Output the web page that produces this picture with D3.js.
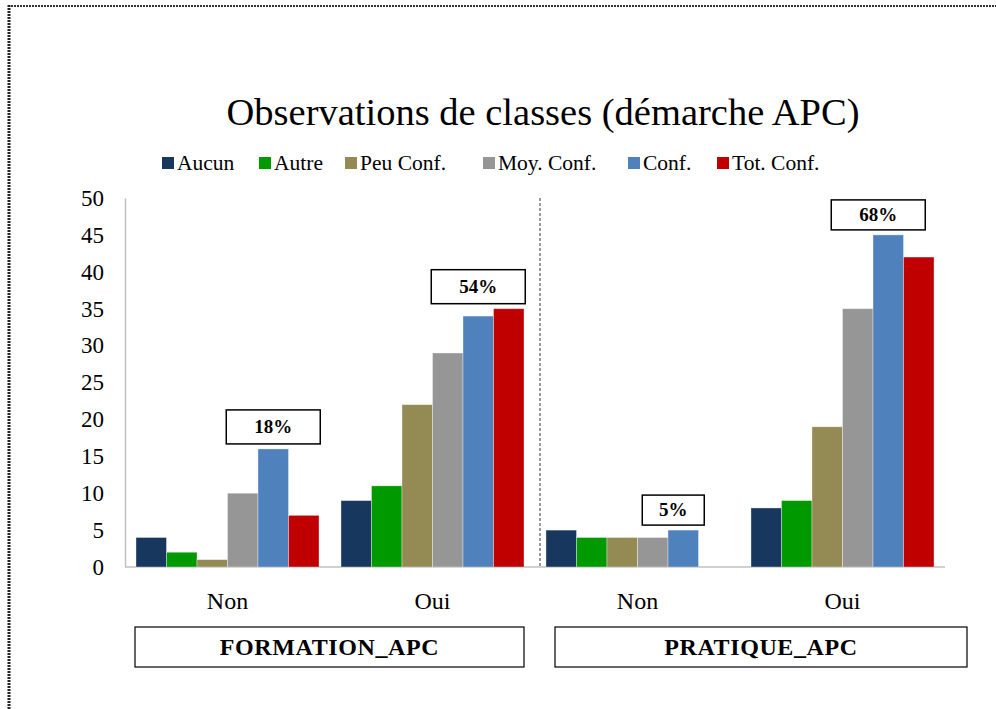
<!DOCTYPE html>
<html>
<head>
<meta charset="utf-8">
<script src="https://cdn.jsdelivr.net/npm/d3@7"></script>
<style>
  html, body { margin: 0; padding: 0; background: #fff; }
  svg { display: block; }
</style>
</head>
<body>
<svg id="chart" width="996" height="709"></svg>
<script>
// Category groups along the x axis (question / answer)
const groups = ["FORMATION_APC|Non", "FORMATION_APC|Oui", "PRATIQUE_APC|Non", "PRATIQUE_APC|Oui"];
const groupLabels = ["Non", "Oui", "Non", "Oui"];
const sections = ["FORMATION_APC", "PRATIQUE_APC"];

// Series (level of confidence)
const series = ["Aucun", "Autre", "Peu Conf.", "Moy. Conf.", "Conf.", "Tot. Conf."];
const colors = ["#17375e", "#009900", "#948a54", "#969696", "#4f81bd", "#c00000"];

// Counts per series, one value per group
const aucun   = [4, 9, 5, 8];
const autre   = [2, 11, 4, 9];
const peuConf = [1, 22, 4, 19];
const moyConf = [10, 29, 4, 35];
const conf    = [16, 34, 5, 45];
const totConf = [7, 35, 0, 42];
const values = [aucun, autre, peuConf, moyConf, conf, totConf];

// Percentage callouts per group
const pctLabels = ["18%", "54%", "5%", "68%"];

// Y axis ticks
const yTicks = [0, 5, 10, 15, 20, 25, 30, 35, 40, 45, 50];

const SERIF = "\"Liberation Serif\"";

const svg = d3.select("#chart");

// Dotted page frame (top and left edges)
svg.append("line").attr("x1", 8).attr("x2", 996).attr("y1", 6).attr("y2", 6)
  .attr("stroke", "#333").attr("stroke-width", 2).attr("stroke-dasharray", "2,1");
svg.append("line").attr("x1", 9).attr("x2", 9).attr("y1", 5).attr("y2", 709)
  .attr("stroke", "#222").attr("stroke-width", 3).attr("stroke-dasharray", "2,1");

const plotLeft = 125, plotRight = 945, plotTop = 198, plotBottom = 567;

const x0 = d3.scaleBand().domain(groups).range([plotLeft, plotRight]).padding(0);
const x1 = d3.scaleBand().domain(series).range([0, x0.bandwidth()])
  .paddingInner(0).paddingOuter(0.36);
const y = d3.scaleLinear().domain([0, 50]).range([plotBottom, plotTop]);

function txt(sel) {
  return sel.style("font-family", SERIF).attr("fill", "#000");
}

// Title
txt(svg.append("text")).attr("x", 543).attr("y", 125).attr("text-anchor", "middle")
  .style("font-size", "38.5px").text("Observations de classes (démarche APC)");

// Legend
const legendX = [162, 259, 345, 483, 628, 717];
const leg = svg.append("g");
series.forEach((s, i) => {
  leg.append("rect").attr("x", legendX[i]).attr("y", 157).attr("width", 12).attr("height", 12)
    .attr("fill", colors[i]);
  txt(leg.append("text")).attr("x", legendX[i] + 15).attr("y", 170)
    .style("font-size", "21.5px").text(s);
});

// Y axis
const yAxis = svg.append("g").attr("transform", `translate(${plotLeft},0)`)
  .call(d3.axisLeft(y).tickValues(yTicks).tickSize(0).tickPadding(21));
yAxis.select(".domain").attr("stroke", "#c0c0c0").attr("stroke-width", 1.5);
txt(yAxis.selectAll("text")).style("font-size", "23px");

// X axis baseline
svg.append("line").attr("x1", plotLeft).attr("x2", plotRight).attr("y1", plotBottom).attr("y2", plotBottom)
  .attr("stroke", "#c0c0c0").attr("stroke-width", 1.5);

// Bars
const gGroups = svg.append("g").selectAll("g").data(groups).join("g")
  .attr("transform", d => `translate(${x0(d)},0)`);
gGroups.selectAll("rect")
  .data((g, gi) => series.map((s, si) => ({ s, si, v: values[si][gi] })))
  .join("rect")
  .attr("x", d => x1(d.s))
  .attr("y", d => y(d.v))
  .attr("width", x1.bandwidth())
  .attr("height", d => y(0) - y(d.v))
  .attr("fill", d => colors[d.si])
  .attr("stroke", "rgba(255,255,255,0.45)")
  .attr("stroke-width", 0.8);

// Section divider
svg.append("line").attr("x1", 540).attr("x2", 540).attr("y1", plotTop).attr("y2", plotBottom)
  .attr("stroke", "#333").attr("stroke-width", 1).attr("stroke-dasharray", "3,2");

// Percentage callouts above each group
pctLabels.forEach((p, gi) => {
  const maxV = d3.max(values, v => v[gi]);
  const cx = x0(groups[gi]) + x1("Conf.") + x1.bandwidth() / 2 - (gi >= 2 ? 10 : 0);
  const w = p.length > 2 ? 94 : 62;
  const h = gi >= 2 ? 30 : 34;
  const by = y(maxV) - 5 - h;
  svg.append("rect").attr("x", cx - w / 2).attr("y", by).attr("width", w).attr("height", h)
    .attr("fill", "#fff").attr("stroke", "#000").attr("stroke-width", 1.5);
  txt(svg.append("text")).attr("x", cx).attr("y", by + h / 2 + 6).attr("text-anchor", "middle")
    .style("font-size", "19px").style("font-weight", "bold").text(p);
});

// Category labels
groups.forEach((g, i) => {
  txt(svg.append("text")).attr("x", x0(g) + x0.bandwidth() / 2).attr("y", 609)
    .attr("text-anchor", "middle").style("font-size", "24px").text(groupLabels[i]);
});

// Section boxes
const sectionBoxes = [[135, 524], [555, 967]];
sections.forEach((s, i) => {
  const [a, b] = sectionBoxes[i];
  svg.append("rect").attr("x", a).attr("y", 627).attr("width", b - a).attr("height", 40)
    .attr("fill", "#fff").attr("stroke", "#000").attr("stroke-width", 1.2);
  txt(svg.append("text")).attr("x", (a + b) / 2).attr("y", 655).attr("text-anchor", "middle")
    .style("font-size", "24px").style("font-weight", "bold").style("letter-spacing", "0.6px").text(s);
});
</script>
</body>
</html>
